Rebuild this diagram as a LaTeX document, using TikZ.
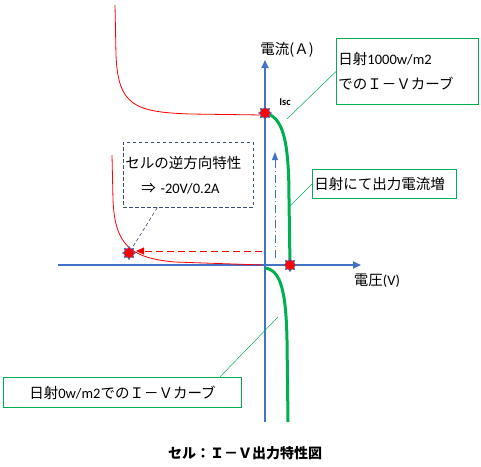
\documentclass[tikz,border=0pt]{standalone}
\usepackage{fontspec}
\setmainfont{Noto Sans CJK JP}
\newfontfamily\lat{Carlito}
\usetikzlibrary{arrows.meta,shapes.geometric}
\definecolor{axisblue}{HTML}{4472C4}
\definecolor{ivgreen}{HTML}{00B050}
\definecolor{ivred}{HTML}{FF0000}
\definecolor{navy}{HTML}{3B4E78}
\tikzset{
  axis/.style={draw=axisblue, line width=1.8pt, -{Triangle[length=8pt,width=7pt,fill=axisblue]}},
  spot/.style={star, star points=8, star point ratio=1.5, fill=ivred, draw=axisblue, line width=0.6pt, inner sep=0pt, minimum size=13pt},
  greenbox/.style={draw=ivgreen, line width=0.9pt, inner ysep=0pt},
  callout/.style={draw=ivgreen, line width=0.5pt},
  txt/.style={font=\fontsize{14.5pt}{25pt}\selectfont},
}
\begin{document}
\begin{tikzpicture}[x=1pt, y=-1pt]
  \useasboundingbox[fill=white] (0,0) rectangle (481,466);
  % axes
  \coordinate (xstart) at (58,265);
  \coordinate (xend) at (361,265);
  \coordinate (ystart) at (265,422);
  \coordinate (yend) at (265,60);
  \draw [axis] (xstart) -- (xend);
  \draw [axis] (ystart) -- (yend);
  % I-V curves
  \draw [draw=ivred, line width=0.8pt] (115,5) -- (116,55) .. controls (118,106) and (135,112) .. (190,114) -- (262,115);
  \draw [draw=ivred, line width=0.8pt] (112,155) -- (113,200) .. controls (115,245) and (130,258) .. (175,262) -- (262,265);
  \draw [draw=ivgreen, line width=3pt] (265,113) .. controls (283,117) and (289,140) .. (289,200) -- (290,265);
  \draw [draw=ivgreen, line width=3pt] (265,268) .. controls (281,270) and (286,292) .. (287,340) -- (288,422);
  % dashed arrows
  \coordinate (redstart) at (262,251);
  \coordinate (redtip) at (136,251);
  \draw [draw=ivred, line width=1pt, dash pattern=on 7pt off 4pt, -{Triangle[length=8pt,width=7pt,fill=ivred]}] (redstart) -- (redtip);
  \coordinate (bluestart) at (275,258);
  \coordinate (blueend) at (275,152);
  \draw [draw=axisblue, line width=0.8pt, dash pattern=on 8pt off 3pt on 1pt off 3pt, -{Triangle[length=8pt,width=6pt,fill=axisblue]}] (bluestart) -- (blueend);
  % points
  \node [spot] (isc) at (265,113) {};
  \node [spot] (voc) at (290,265) {};
  \node [spot] (rev) at (129,253) {};
  \node [font=\lat\bfseries\fontsize{10.5pt}{11pt}\selectfont] (isclabel) at (285,102) {Isc};
  \node [txt] (ylabel) at (287,50) {電流(Ａ)};
  \node [txt] (xlabel) at (377,281) {電圧{\lat(V)}};
  % labels
  \node [draw=navy, dash pattern=on 3.5pt off 2.5pt, line width=0.6pt, txt, align=left, text width=126pt, inner xsep=2pt, minimum height=65pt, anchor=north west] (revbox) at (123,142)
    {セルの逆方向特性\\\hspace*{1.1em}⇒ {\lat -20V/0.2A}};
  \draw [draw=navy, dash pattern=on 3.5pt off 2.5pt, line width=0.6pt] ([xshift=-31pt]revbox.south) -- (rev);
  \node [greenbox, txt, align=left, text width=138pt, inner xsep=2pt, minimum height=66pt, anchor=north west] (boxhi) at (336,38)
    {日射{\lat 1000w/m2}\\でのＩ－Ｖカーブ};
  \coordinate (hiend) at (287,119);
  \draw [callout] (boxhi.west) -- (hiend);
  \node [greenbox, txt, align=left, text width=140pt, inner xsep=2pt, minimum height=29pt, anchor=north west] (boxinc) at (312,169)
    {日射にて出力電流増};
  \coordinate (incend) at (288,208);
  \draw [callout] (boxinc.west) -- (incend);
  \node [greenbox, txt, align=center, text width=234pt, inner xsep=2pt, minimum height=30pt, anchor=north west] (boxzero) at (3,377)
    {日射{\lat 0w/m2}でのＩ－Ｖカーブ};
  \coordinate (zeroend) at (278,317);
  \draw [callout] ([xshift=-22pt]boxzero.north east) -- (zeroend);
  % title
  \node [font=\bfseries\fontsize{14pt}{16pt}\selectfont] (title) at (245,453) {セル：Ｉ－Ｖ出力特性図};
\end{tikzpicture}
\end{document}
